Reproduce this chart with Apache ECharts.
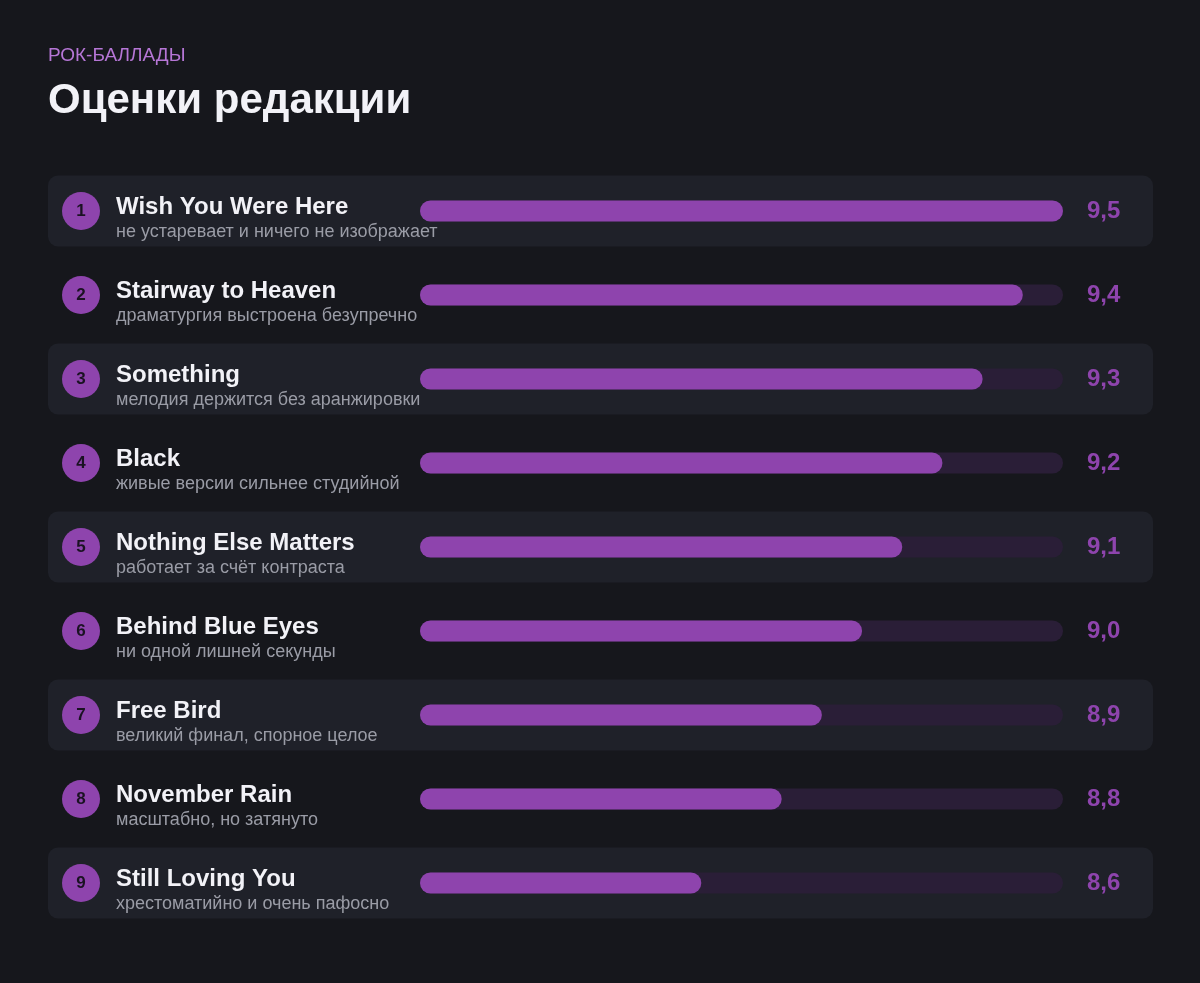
<!DOCTYPE html>
<html>
<head>
<meta charset="utf-8">
<script src="https://cdn.jsdelivr.net/npm/echarts@6/dist/echarts.min.js"></script>
<style>
  html, body { margin: 0; padding: 0; background: #16171c; }
  #chart { width: 1200px; height: 983px; }
</style>
</head>
<body>
<div id="chart"></div>
<script>
// данные
var songs = ['Wish You Were Here', 'Stairway to Heaven', 'Something', 'Black', 'Nothing Else Matters',
  'Behind Blue Eyes', 'Free Bird', 'November Rain', 'Still Loving You']
var notes = ['не устаревает и ничего не изображает', 'драматургия выстроена безупречно',
  'мелодия держится без аранжировки', 'живые версии сильнее студийной', 'работает за счёт контраста',
  'ни одной лишней секунды', 'великий финал, спорное целое', 'масштабно, но затянуто',
  'хрестоматийно и очень пафосно']
var scores = [9.5, 9.4, 9.3, 9.2, 9.1, 9.0, 8.9, 8.8, 8.6]
var scoreMin = 7.9
var scoreMax = 9.5

var font = '"Liberation Sans", Arial, sans-serif'
var purple = '#8e44ad'

var chart = echarts.init(document.getElementById('chart'))

function fmt(v) {
  return v.toFixed(1).replace('.', ',')
}

// строки: фон, кружок с номером, название, подпись, оценка
function renderRow(params, api) {
  var i = api.value(0)
  var cy = api.coord([scoreMin, i])[1]
  var children = []
  if (i % 2 === 0) {
    children.push({
      type: 'rect',
      shape: { x: 48, y: cy - 35.5, width: 1105, height: 71, r: 10 },
      style: { fill: '#1f2129' }
    })
  }
  children.push({
    type: 'circle',
    shape: { cx: 81, cy: cy, r: 19 },
    style: { fill: purple }
  })
  children.push({
    type: 'text',
    style: { text: String(i + 1), x: 81, y: cy + 0.5, fill: '#1a1222', align: 'center', verticalAlign: 'middle',
      font: 'bold 17px ' + font }
  })
  children.push({
    type: 'text',
    style: { text: songs[i], x: 116, y: cy - 4, fill: '#f2f2f7', align: 'left', verticalAlign: 'middle',
      font: 'bold 24px ' + font }
  })
  children.push({
    type: 'text',
    style: { text: notes[i], x: 116, y: cy + 21, fill: '#9a9ca6', align: 'left', verticalAlign: 'middle',
      font: '18px ' + font }
  })
  children.push({
    type: 'text',
    style: { text: fmt(scores[i]), x: 1087, y: cy, fill: purple, align: 'left', verticalAlign: 'middle',
      font: 'bold 24px ' + font }
  })
  return { type: 'group', children: children }
}

var option = {
  backgroundColor: '#16171c',
  animation: false,
  graphic: [
    {
      type: 'text',
      style: { text: 'РОК-БАЛЛАДЫ', x: 48, y: 56, fill: '#b676d6', verticalAlign: 'middle', font: '19px ' + font }
    },
    {
      type: 'text',
      style: { text: 'Оценки редакции', x: 48, y: 101, fill: '#f2f2f7', verticalAlign: 'middle', font: 'bold 42px ' + font }
    }
  ],
  grid: { left: 420, right: 137, top: 169, height: 756, containLabel: false },
  xAxis: {
    type: 'value',
    min: scoreMin,
    max: scoreMax,
    startValue: scoreMin,
    show: false
  },
  yAxis: {
    type: 'category',
    data: songs,
    inverse: true,
    show: false
  },
  series: [
    {
      type: 'custom',
      z: 1,
      clip: false,
      silent: true,
      data: scores.map(function (v, i) { return [i, v] }),
      encode: { x: 1, y: 0 },
      renderItem: renderRow
    },
    {
      type: 'bar',
      z: 3,
      data: scores,
      barWidth: 21,
      showBackground: true,
      backgroundStyle: { color: '#2a1e37', borderRadius: 10.5 },
      itemStyle: { color: purple, borderRadius: 10.5 }
    }
  ]
}

chart.setOption(option)
</script>
</body>
</html>
